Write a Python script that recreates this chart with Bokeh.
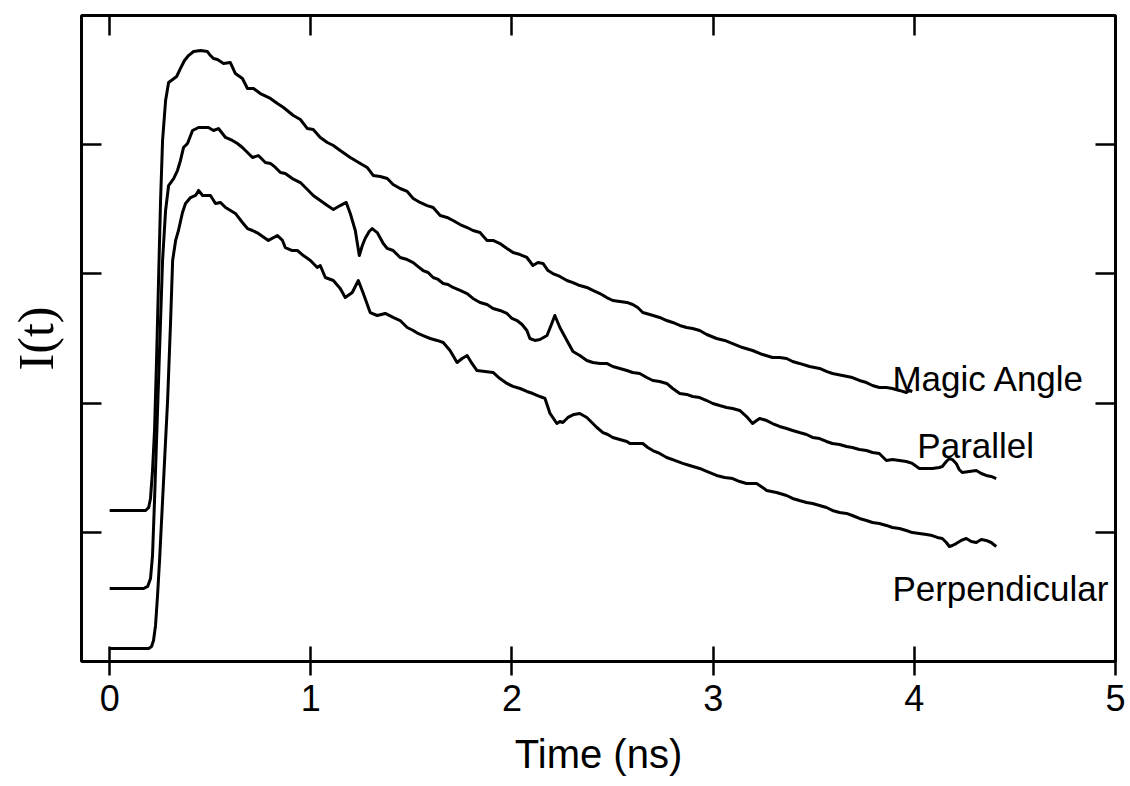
from bokeh.plotting import figure
from bokeh.models import Range1d, FixedTicker, LinearAxis, Label, CustomJSTickFormatter
from bokeh.embed import file_html
from bokeh.resources import INLINE

# ---- data (time in ns, intensity in arbitrary offset units) ----
magic_t = [0.0, 0.179, 0.194, 0.203, 0.213, 0.223, 0.233, 0.243, 0.253, 0.263, 0.278, 0.293, 0.313, 0.333,
           0.352, 0.372, 0.392, 0.417, 0.452, 0.486, 0.501, 0.516, 0.536, 0.566, 0.600, 0.625, 0.660, 0.685,
           0.715, 0.749, 0.799, 0.834, 0.864, 0.913, 0.948, 0.983, 1.012, 1.047, 1.082, 1.112, 1.146, 1.196,
           1.246, 1.280, 1.310, 1.345, 1.380, 1.409, 1.444, 1.479, 1.509, 1.543, 1.578, 1.608, 1.643, 1.677,
           1.707, 1.742, 1.777, 1.806, 1.841, 1.876, 1.906, 1.940, 1.975, 2.005, 2.040, 2.074, 2.104, 2.129,
           2.154, 2.179, 2.203, 2.238, 2.273, 2.303, 2.337, 2.372, 2.402, 2.437, 2.471, 2.501, 2.536, 2.571,
           2.600, 2.625, 2.650, 2.685, 2.734, 2.769, 2.799, 2.834, 2.868, 2.898, 2.933, 2.968, 3.017, 3.057,
           3.097, 3.146, 3.196, 3.246, 3.295, 3.330, 3.365, 3.395, 3.429, 3.479, 3.529, 3.563, 3.593, 3.643,
           3.692, 3.727, 3.762, 3.792, 3.826, 3.861, 3.891, 3.926, 3.960, 3.975, 3.990]
magic_i = [1.169, 1.169, 1.192, 1.262, 1.478, 1.788, 2.330, 2.949, 3.568, 4.033, 4.342, 4.481, 4.505, 4.528,
           4.590, 4.652, 4.690, 4.721, 4.729, 4.721, 4.690, 4.667, 4.659, 4.629, 4.636, 4.551, 4.512, 4.435,
           4.435, 4.396, 4.358, 4.319, 4.288, 4.226, 4.195, 4.125, 4.118, 4.056, 4.017, 3.994, 3.955, 3.901,
           3.855, 3.824, 3.762, 3.754, 3.738, 3.692, 3.661, 3.638, 3.584, 3.553, 3.529, 3.514, 3.452, 3.437,
           3.413, 3.382, 3.359, 3.336, 3.320, 3.259, 3.259, 3.235, 3.197, 3.166, 3.150, 3.127, 3.065, 3.088,
           3.081, 3.026, 3.003, 2.980, 2.949, 2.933, 2.910, 2.895, 2.872, 2.848, 2.817, 2.794, 2.786, 2.779,
           2.763, 2.740, 2.701, 2.686, 2.663, 2.639, 2.624, 2.601, 2.585, 2.577, 2.562, 2.531, 2.500, 2.485,
           2.461, 2.430, 2.407, 2.376, 2.353, 2.353, 2.345, 2.322, 2.307, 2.283, 2.268, 2.245, 2.229, 2.214,
           2.198, 2.175, 2.159, 2.136, 2.121, 2.121, 2.113, 2.098, 2.082, 2.098, 2.090]

parallel_t = [0.0, 0.169, 0.189, 0.203, 0.213, 0.223, 0.233, 0.243, 0.253, 0.263, 0.278, 0.293, 0.318, 0.337,
              0.352, 0.367, 0.387, 0.412, 0.442, 0.491, 0.516, 0.541, 0.576, 0.610, 0.635, 0.660, 0.690, 0.710,
              0.739, 0.774, 0.799, 0.824, 0.849, 0.873, 0.908, 0.948, 0.983, 1.012, 1.047, 1.082, 1.112, 1.146,
              1.176, 1.196, 1.221, 1.241, 1.256, 1.270, 1.290, 1.305, 1.330, 1.360, 1.380, 1.409, 1.444, 1.479,
              1.509, 1.533, 1.558, 1.583, 1.608, 1.633, 1.658, 1.682, 1.707, 1.742, 1.777, 1.806, 1.841, 1.876,
              1.906, 1.940, 1.975, 2.000, 2.025, 2.050, 2.074, 2.089, 2.114, 2.139, 2.174, 2.194, 2.213, 2.238,
              2.273, 2.303, 2.337, 2.372, 2.402, 2.437, 2.471, 2.501, 2.536, 2.571, 2.600, 2.635, 2.670, 2.700,
              2.734, 2.769, 2.799, 2.834, 2.868, 2.898, 2.933, 2.968, 2.998, 3.032, 3.067, 3.097, 3.132, 3.166,
              3.196, 3.216, 3.231, 3.266, 3.295, 3.330, 3.365, 3.395, 3.429, 3.464, 3.494, 3.529, 3.563, 3.593,
              3.628, 3.663, 3.692, 3.727, 3.762, 3.792, 3.826, 3.861, 3.891, 3.926, 3.960, 3.990, 4.025, 4.060,
              4.089, 4.124, 4.139, 4.159, 4.174, 4.189, 4.208, 4.223, 4.238, 4.273, 4.308, 4.333, 4.357, 4.382,
              4.407]
parallel_i = [0.565, 0.565, 0.581, 0.642, 0.820, 1.246, 1.711, 2.175, 2.639, 3.104, 3.491, 3.684, 3.738, 3.800,
              3.878, 3.978, 4.009, 4.110, 4.133, 4.133, 4.110, 4.125, 4.056, 4.033, 4.009, 3.978, 3.932, 3.901,
              3.916, 3.862, 3.855, 3.824, 3.785, 3.777, 3.738, 3.707, 3.653, 3.607, 3.568, 3.529, 3.498, 3.529,
              3.553, 3.468, 3.336, 3.142, 3.220, 3.274, 3.328, 3.351, 3.320, 3.235, 3.197, 3.181, 3.127, 3.111,
              3.088, 3.057, 3.026, 3.011, 2.972, 2.957, 2.926, 2.918, 2.895, 2.872, 2.848, 2.810, 2.779, 2.763,
              2.732, 2.717, 2.694, 2.655, 2.639, 2.608, 2.562, 2.500, 2.485, 2.492, 2.523, 2.601, 2.678, 2.585,
              2.485, 2.399, 2.368, 2.330, 2.314, 2.307, 2.307, 2.283, 2.268, 2.252, 2.237, 2.229, 2.198, 2.175,
              2.167, 2.152, 2.113, 2.074, 2.067, 2.051, 2.043, 2.020, 1.997, 1.981, 1.966, 1.958, 1.943, 1.896,
              1.842, 1.865, 1.881, 1.865, 1.842, 1.819, 1.803, 1.788, 1.772, 1.757, 1.734, 1.726, 1.703, 1.687,
              1.680, 1.664, 1.656, 1.641, 1.633, 1.618, 1.610, 1.556, 1.563, 1.556, 1.548, 1.533, 1.494, 1.494,
              1.494, 1.502, 1.509, 1.548, 1.571, 1.563, 1.533, 1.486, 1.463, 1.471, 1.478, 1.455, 1.440, 1.432,
              1.416]

perp_t = [0.0, 0.194, 0.208, 0.218, 0.228, 0.238, 0.248, 0.258, 0.268, 0.278, 0.288, 0.303, 0.313, 0.328,
          0.342, 0.362, 0.377, 0.402, 0.427, 0.442, 0.462, 0.501, 0.526, 0.551, 0.576, 0.625, 0.660, 0.685,
          0.710, 0.739, 0.789, 0.834, 0.859, 0.873, 0.908, 0.933, 0.963, 0.998, 1.032, 1.047, 1.072, 1.112,
          1.146, 1.171, 1.206, 1.236, 1.261, 1.295, 1.330, 1.370, 1.409, 1.444, 1.479, 1.509, 1.533, 1.558,
          1.593, 1.628, 1.658, 1.692, 1.727, 1.752, 1.777, 1.801, 1.826, 1.866, 1.906, 1.940, 1.975, 2.005,
          2.040, 2.074, 2.104, 2.139, 2.164, 2.189, 2.223, 2.238, 2.253, 2.278, 2.308, 2.337, 2.372, 2.397,
          2.422, 2.452, 2.476, 2.501, 2.536, 2.571, 2.586, 2.620, 2.650, 2.675, 2.700, 2.734, 2.769, 2.809,
          2.849, 2.883, 2.933, 2.968, 3.017, 3.057, 3.097, 3.132, 3.166, 3.216, 3.246, 3.266, 3.315, 3.365,
          3.395, 3.429, 3.464, 3.494, 3.529, 3.563, 3.593, 3.628, 3.663, 3.692, 3.727, 3.762, 3.792, 3.826,
          3.861, 3.891, 3.926, 3.960, 3.990, 4.025, 4.060, 4.089, 4.114, 4.139, 4.159, 4.174, 4.189, 4.208,
          4.233, 4.258, 4.283, 4.308, 4.333, 4.357, 4.382, 4.407]
perp_i = [0.101, 0.101, 0.116, 0.163, 0.279, 0.511, 0.782, 1.091, 1.401, 1.711, 2.020, 2.639, 3.104, 3.259,
          3.336, 3.475, 3.545, 3.591, 3.607, 3.646, 3.607, 3.607, 3.545, 3.553, 3.514, 3.468, 3.398, 3.351,
          3.336, 3.313, 3.259, 3.297, 3.259, 3.204, 3.181, 3.181, 3.142, 3.104, 3.050, 3.065, 2.972, 2.949,
          2.887, 2.817, 2.856, 2.949, 2.848, 2.701, 2.678, 2.694, 2.663, 2.639, 2.585, 2.562, 2.539, 2.523,
          2.500, 2.485, 2.469, 2.407, 2.314, 2.345, 2.368, 2.307, 2.252, 2.245, 2.237, 2.190, 2.152, 2.129,
          2.113, 2.090, 2.074, 2.051, 2.036, 1.920, 1.842, 1.858, 1.850, 1.889, 1.912, 1.920, 1.889, 1.850,
          1.811, 1.772, 1.757, 1.734, 1.718, 1.703, 1.687, 1.687, 1.687, 1.656, 1.633, 1.610, 1.579, 1.556,
          1.533, 1.517, 1.494, 1.471, 1.440, 1.424, 1.416, 1.393, 1.378, 1.378, 1.347, 1.324, 1.308, 1.285,
          1.262, 1.246, 1.231, 1.223, 1.207, 1.192, 1.169, 1.153, 1.146, 1.130, 1.107, 1.091, 1.076, 1.068,
          1.053, 1.037, 1.029, 1.014, 0.998, 0.991, 0.983, 0.975, 0.960, 0.952, 0.921, 0.890, 0.898, 0.913,
          0.937, 0.952, 0.929, 0.921, 0.944, 0.937, 0.921, 0.890]

x_ticks = [0, 1, 2, 3, 4, 5]
y_ticks = [1, 2, 3, 4]
series_names = ["Magic Angle", "Parallel", "Perpendicular"]

FONT = "Liberation Sans"

p = figure(width=1130, height=786, output_backend="svg", toolbar_location=None,
           x_range=Range1d(-0.14, 5.0), y_range=Range1d(0, 5.0),
           min_border_left=81, min_border_right=15, min_border_top=15, min_border_bottom=125,
           x_axis_label="Time (ns)", y_axis_label="I(t)")
p.background_fill_color = "white"
p.border_fill_color = "white"
p.grid.visible = False
p.outline_line_color = "black"
p.outline_line_width = 3

# bottom axis
xa = p.xaxis[0]
xa.ticker = FixedTicker(ticks=x_ticks)
xa.axis_line_color = None
xa.major_tick_in = 15
xa.major_tick_out = 14
xa.major_tick_line_width = 2.5
xa.major_tick_line_color = "black"
xa.minor_tick_line_color = None
xa.major_label_text_font = FONT
xa.major_label_text_font_size = "36px"
xa.major_label_text_color = "black"
xa.major_label_standoff = 9
xa.axis_label_text_font = FONT
xa.axis_label_text_font_size = "40px"
xa.axis_label_text_font_style = "normal"
xa.axis_label_text_color = "black"
xa.axis_label_standoff = 18

# left axis
ya = p.yaxis[0]
ya.ticker = FixedTicker(ticks=y_ticks)
ya.axis_line_color = None
ya.major_tick_in = 20
ya.major_tick_out = 0
ya.major_tick_line_width = 2.5
ya.major_tick_line_color = "black"
ya.minor_tick_line_color = None
ya.formatter = CustomJSTickFormatter(code="return ''")
ya.major_label_text_font_size = "1px"
ya.major_label_standoff = 0
ya.axis_label_text_font = "Liberation Serif"
ya.axis_label_text_font_size = "50px"
ya.axis_label_text_font_style = "normal"
ya.axis_label_text_color = "black"
ya.axis_label_standoff = 18

# top and right axes (ticks only)
top = LinearAxis(ticker=FixedTicker(ticks=x_ticks), axis_line_color=None,
                 major_tick_in=20, major_tick_out=0, major_tick_line_width=2.5,
                 major_tick_line_color="black",
                 minor_tick_line_color=None, formatter=CustomJSTickFormatter(code="return ''"),
                 major_label_text_font_size="1px", major_label_standoff=0)
right = LinearAxis(ticker=FixedTicker(ticks=y_ticks), axis_line_color=None,
                   major_tick_in=20, major_tick_out=0, major_tick_line_width=2.5,
                   major_tick_line_color="black",
                   minor_tick_line_color=None, formatter=CustomJSTickFormatter(code="return ''"),
                   major_label_text_font_size="1px", major_label_standoff=0)
p.add_layout(top, "above")
p.add_layout(right, "right")

for t, i in [(magic_t, magic_i), (parallel_t, parallel_i), (perp_t, perp_i)]:
    p.line(t, i, line_color="black", line_width=3, line_join="round")

label_pos = [(3.891, 2.19), (4.015, 1.672), (3.891, 0.565)]
for name, (lx, ly) in zip(series_names, label_pos):
    p.add_layout(Label(x=lx, y=ly, text=name, text_font=FONT, text_font_size="35px",
                       text_color="black", text_baseline="alphabetic", text_align="left"))

open("out.html", "w").write(file_html(p, INLINE))
